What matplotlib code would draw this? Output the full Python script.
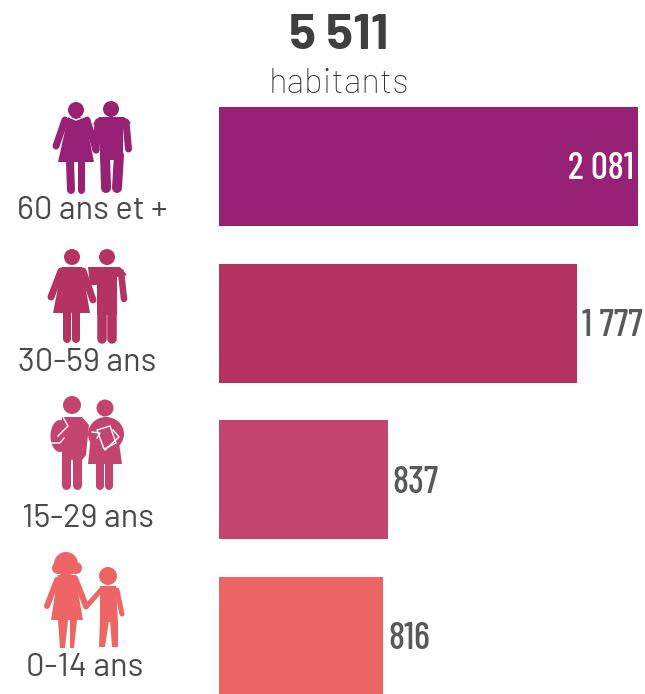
import matplotlib
matplotlib.use('Agg')
from matplotlib import pyplot as plt
from matplotlib.patches import Circle, Ellipse, Polygon

categories = ['60 ans et +', '30-59 ans', '15-29 ans', '0-14 ans']
values = [2081, 1777, 837, 816]
value_labels = ['2 081', '1 777', '837', '816']
colors = ['#962175', '#B53361', '#C44470', '#EE6566']
total_label = '5 511'
total_unit = 'habitants'

NARROW = ['Barlow Condensed', 'Roboto', 'DejaVu Sans']
TEXT = ['Barlow', 'Roboto', 'DejaVu Sans']

fig = plt.figure(figsize=(6.45, 6.94), dpi=100)

# bars
ax = fig.add_axes([219 / 645, 0, 426 / 645, 1])
ax.barh(range(4), values, height=0.76, color=colors)
ax.set_xlim(0, 2116)
ax.set_ylim(3.367, -1.063)
ax.axis('off')

for i in range(4):
    if i == 0:
        ax.annotate(value_labels[i], (values[i], i), xytext=(-3, -2), textcoords='offset points',
                    ha='right', va='center', color='white', fontsize=27, fontweight='medium', family=NARROW)
    else:
        ax.annotate(value_labels[i], (values[i], i), xytext=(3.5, -2), textcoords='offset points',
                    ha='left', va='center', color='#595959', fontsize=27, fontweight='medium', family=NARROW)

# overlay in pixels for the texts and pictograms
ov = fig.add_axes([0, 0, 1, 1])
ov.set_xlim(0, 645)
ov.set_ylim(694, 0)
ov.axis('off')
ov.patch.set_alpha(0)

ov.text(339, 36, total_label, ha='center', va='center', fontsize=36, fontweight='bold',
        color='#3f3f3f', family=TEXT)
ov.text(339, 84, total_unit, ha='center', va='center', fontsize=25, fontweight='light',
        color='#333333', family=TEXT)

label_x = [92, 87, 88, 85]
label_y = [211, 363, 519, 668]
for i in range(4):
    ov.text(label_x[i], label_y[i], categories[i], ha='center', va='center', fontsize=23.5,
            color='#4a4a4a', family=TEXT)


def head(x, y, r, c):
    ov.add_patch(Circle((x, y), r, color=c, lw=0))


def limb(x1, y1, x2, y2, w, c):
    ov.plot([x1, x2], [y1, y2], color=c, lw=w * 0.72, solid_capstyle='round')


def shape(pts, c, **kw):
    ov.add_patch(Polygon(pts, closed=True, color=c, lw=0, **kw))


def outline(pts, lw=1.0):
    ov.add_patch(Polygon(pts, closed=True, fill=False, edgecolor='white', lw=lw))


# 60 ans et +
c = colors[0]
shape([(99, 117), (124, 117), (131, 123), (123, 127), (123, 160), (100, 160), (100, 128), (93, 124)], c)
limb(126, 122, 128.5, 149, 7, c)
limb(98, 122, 96, 150, 7, c)
limb(105, 155, 106, 188, 10, c)
limb(119, 155, 117, 188, 10, c)
head(111, 109, 8, c)
shape([(68, 117), (85, 117), (94, 162), (58, 162)], c)
limb(65, 120, 56, 146, 7, c)
limb(87, 120, 96, 150, 7, c)
limb(70, 162, 71, 190, 8, c)
limb(81, 162, 81, 190, 7, c)
shape([(65, 118), (88, 118), (86, 122), (67, 122)], c)
head(76, 110, 8, c)
ov.plot([69, 76, 84], [117, 120, 117], color='white', lw=1)

# 30-59 ans
c = colors[1]
shape([(88, 267), (120, 267), (127, 275), (117, 277), (117, 315), (97, 315), (97, 285), (90, 285)], c)
limb(121, 272, 124, 299, 6.5, c)
limb(101.5, 300, 101.5, 339, 9.5, c)
limb(112, 300, 112, 339, 9.5, c)
head(107, 257, 8, c)
shape([(62, 267), (82, 267), (90, 313), (53, 313)], c)
limb(61, 271, 51, 297, 7, c)
limb(83, 271, 93, 300, 7, c)
limb(67, 312, 67, 339, 8, c)
limb(76, 312, 76, 339, 8, c)
head(72, 257, 8, c)

# 15-29 ans
c = colors[2]
ov.add_patch(Ellipse((60, 436), 19, 32, color=c, lw=0))
shape([(62, 417), (82, 417), (89, 425), (86, 455), (82, 460), (62, 460)], c)
limb(66, 458, 66, 485, 9, c)
limb(77, 458, 77, 485, 9, c)
head(72, 405, 9, c)
ov.plot([51, 60, 64], [443, 443, 438], color='white', lw=1)
ov.plot([63, 68, 58], [417, 426, 436], color='white', lw=1)
ov.add_patch(Ellipse((106, 434), 36, 34, color=c, lw=0))
shape([(91, 435), (118, 435), (122, 464), (88, 464)], c)
limb(100, 462, 100, 486, 8, c)
limb(109, 462, 109, 486, 8, c)
head(105, 408, 8.5, c)
outline([(97, 430), (110, 426), (116, 443), (104, 449)])
ov.plot([92, 100, 97], [432, 433, 438], color='white', lw=1)
ov.plot([113, 119, 105], [430, 437, 450], color='white', lw=1)

# 0-14 ans
c = colors[3]
shape([(58, 575), (75, 575), (83, 620), (51, 620)], c)
limb(57, 580, 47, 606, 6, c)
limb(75, 578, 86, 606, 6, c)
shape([(58, 620), (68, 620), (65, 648), (60, 648)], c)
shape([(70, 620), (77, 620), (74, 648), (70, 648)], c)
head(66, 564, 12, c)
head(58, 568, 6, c)
head(76, 568, 6, c)
shape([(100, 586), (116, 586), (118, 622), (100, 622)], c)
limb(101, 590, 86, 607, 5, c)
limb(117, 590, 122, 614, 5, c)
shape([(100, 620), (109, 620), (105, 647), (99, 647)], c)
shape([(110, 620), (118, 620), (118, 647), (112, 647)], c)
head(108, 576, 9, c)

plt.savefig('out.png', dpi=100)
